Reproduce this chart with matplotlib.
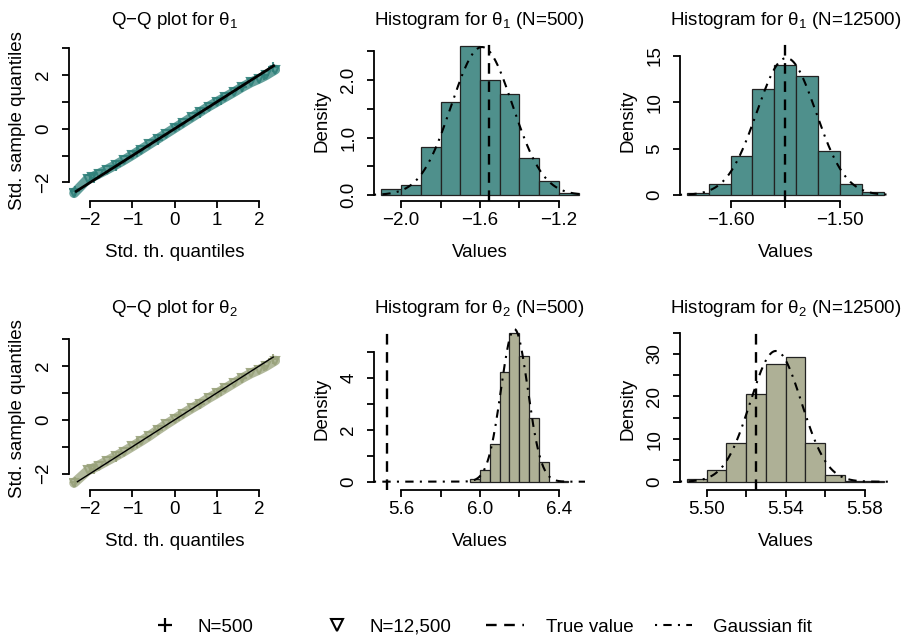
import numpy as np
import matplotlib
matplotlib.use("Agg")
import matplotlib.pyplot as plt
from matplotlib.lines import Line2D

plt.rcParams["font.family"] = ["Liberation Sans", "DejaVu Sans"]
plt.rcParams["mathtext.fontset"] = "custom"
plt.rcParams["mathtext.rm"] = "Liberation Sans"
plt.rcParams["mathtext.it"] = "Liberation Sans"

W, H = 912, 637
FS = 13.5
TEAL = "#4f908c"
TEAL_PT = "#2f807a"
OLIVE = "#aeb096"
OLIVE_PT = "#99a27b"

# ---- Q-Q data ----
qq1_theo = [-2.38, -2.05, -1.95, -1.8, -1.6, -1.4, -1.2, -1.0, -0.8, -0.6, -0.4, -0.2,
            0.0, 0.2, 0.4, 0.6, 0.8, 1.0, 1.2, 1.4, 1.6, 1.8, 2.0, 2.15, 2.38]
qq1_big = [-2.4, -1.86, -1.8, -1.68, -1.52, -1.35, -1.17, -0.98, -0.78, -0.58, -0.38, -0.18,
           0.02, 0.22, 0.42, 0.62, 0.82, 1.0, 1.18, 1.36, 1.55, 1.72, 1.86, 1.98, 2.2]
qq1_small_theo = [-2.35, -1.9, -1.4, -0.9, -0.4, 0.1, 0.6, 1.1, 1.6, 2.1, 2.32]
qq1_small = [-2.32, -1.82, -1.38, -0.87, -0.41, 0.12, 0.6, 1.08, 1.55, 2.0, 2.3]
qq1_line = [-2.33, 2.34]

qq2_theo = [-2.38, -2.05, -1.95, -1.8, -1.6, -1.4, -1.2, -1.0, -0.8, -0.6, -0.4, -0.2,
            0.0, 0.2, 0.4, 0.6, 0.8, 1.0, 1.2, 1.4, 1.6, 1.8, 2.0, 2.15, 2.38]
qq2_big = [-2.35, -1.88, -1.82, -1.7, -1.53, -1.36, -1.18, -0.99, -0.8, -0.6, -0.38, -0.17,
           0.03, 0.23, 0.42, 0.6, 0.8, 0.98, 1.17, 1.36, 1.55, 1.72, 1.86, 1.98, 2.2]
qq2_small_theo = [-2.35, -1.9, -1.4, -0.9, -0.4, 0.1, 0.6, 1.1, 1.6, 2.1, 2.32]
qq2_small = [-2.3, -1.84, -1.37, -0.88, -0.39, 0.13, 0.58, 1.07, 1.54, 2.0, 2.25]
qq2_line = [-2.3, 2.33]

# ---- histograms (bin edges and densities) ----
h1a_edges = [-2.1, -2.0, -1.9, -1.8, -1.7, -1.6, -1.5, -1.4, -1.3, -1.2, -1.1]
h1a_dens = [0.10, 0.18, 0.84, 1.62, 2.60, 2.00, 1.76, 0.64, 0.24, 0.04]
h1a_true = -1.553
h1a_fit = (-1.59, 0.155)

h1b_edges = [-1.64, -1.62, -1.60, -1.58, -1.56, -1.54, -1.52, -1.50, -1.48, -1.46]
h1b_dens = [0.26, 1.2, 4.2, 11.4, 14.0, 12.8, 4.8, 1.2, 0.3]
h1b_true = -1.55
h1b_fit = (-1.549, 0.027)

h2a_edges = [5.95, 6.0, 6.05, 6.1, 6.15, 6.2, 6.25, 6.3, 6.35, 6.4, 6.45]
h2a_dens = [0.12, 0.44, 1.44, 4.2, 5.72, 4.84, 2.44, 0.76, 0.0, 0.04]
h2a_true = 5.527
h2a_fit = (6.175, 0.068)

h2b_edges = [5.49, 5.50, 5.51, 5.52, 5.53, 5.54, 5.55, 5.56, 5.57, 5.58, 5.59]
h2b_dens = [0.7, 2.7, 9.1, 20.5, 27.6, 29.2, 9.1, 1.5, 0.05, 0.15]
h2b_true = 5.5252
h2b_fit = (5.535, 0.013)

fig = plt.figure(figsize=(W / 100, H / 100), dpi=100)


def px_axes(l, t, r, b):
    return fig.add_axes([l / W, 1 - b / H, (r - l) / W, (b - t) / H])


def r_style(ax, xt, xl, yt, yl, xlim, ylim):
    ax.set_xlim(*xlim)
    ax.set_ylim(*ylim)
    for s in ["top", "right"]:
        ax.spines[s].set_visible(False)
    for s in ["left", "bottom"]:
        ax.spines[s].set_linewidth(1.3)
    ax.spines["left"].set_bounds(yt[0], yt[-1])
    ax.spines["bottom"].set_bounds(xt[0], xt[-1])
    ax.set_xticks(xt)
    ax.set_xticklabels(xl, fontsize=FS)
    ax.set_yticks(yt)
    ax.set_yticklabels(yl, fontsize=FS, rotation=90, va="center")
    ax.tick_params(length=5, width=1.3, direction="out", colors="black")
    ax.tick_params(axis="x", pad=3)
    ax.tick_params(axis="y", pad=7)
    ax.patch.set_visible(False)


def m(v):
    return v.replace("-", "\u2212")


def qq_panel(ax, theo, big, st, small, line, col, lw_line, sub):
    ax.plot(theo, big, color=col, alpha=0.75, lw=7, solid_capstyle="round")
    ax.plot(theo, big, "v", color=col, alpha=0.9, ms=6, mfc="none", mew=1.5)
    ax.plot(st, small, "+", color=col, alpha=0.9, ms=7, mew=1.5)
    ax.plot(line, line, color="black", lw=lw_line)
    r_style(ax, [-2, -1, 0, 1, 2], [m(s) for s in ["-2", "-1", "0", "1", "2"]],
            [-2, -1, 0, 1, 2, 3], [m("-2"), "", "0", "", "2", ""],
            (-2.5, 2.49), (-2.69, 3.3))
    ax.set_title(r"Q$-$Q plot for $\mathregular{\theta_%s}$" % sub, fontsize=FS, pad=11)
    ax.set_xlabel("Std. th. quantiles", fontsize=FS, labelpad=11)
    ax.set_ylabel("Std. sample quantiles", fontsize=FS, labelpad=7)


def hist_panel(ax, edges, dens, true_v, fit, col, title, xt, xl, yt, yl, xlim, ylim):
    edges = np.array(edges)
    ax.bar(edges[:-1], dens, width=np.diff(edges), align="edge", color=col,
           edgecolor="#222222", linewidth=0.9)
    ax.axvline(true_v, color="black", lw=1.7, dashes=(4.5, 3.2))
    mu, sd = fit
    xs = np.linspace(xlim[0], xlim[1], 400)
    ax.plot(xs, np.exp(-0.5 * ((xs - mu) / sd) ** 2) / (sd * np.sqrt(2 * np.pi)),
            color="black", lw=1.5, dashes=(1, 3, 4, 3))
    r_style(ax, xt, xl, yt, yl, xlim, ylim)
    ax.set_title(title, fontsize=FS, pad=11)
    ax.set_xlabel("Values", fontsize=FS, labelpad=11)
    ax.set_ylabel("Density", fontsize=FS, labelpad=7)


cols = [69, 374, 680]
wid = 211
rows = [(40, 201), (328, 490)]

ax1 = px_axes(cols[0], rows[0][0], cols[0] + wid, rows[0][1])
qq_panel(ax1, qq1_theo, qq1_big, qq1_small_theo, qq1_small, qq1_line, TEAL_PT, 2.0, "1")

ax2 = px_axes(cols[1], rows[0][0], cols[1] + wid, rows[0][1])
hist_panel(ax2, h1a_edges, h1a_dens, h1a_true, h1a_fit, TEAL,
           r"Histogram for $\mathregular{\theta_1}$ (N=500)",
           [-2.0, -1.8, -1.6, -1.4, -1.2], [m("-2.0"), "", m("-1.6"), "", m("-1.2")],
           [0, 0.5, 1.0, 1.5, 2.0, 2.5], ["0.0", "", "1.0", "", "2.0", ""],
           (-2.137, -1.068), (-0.104, 2.696))

ax3 = px_axes(cols[2], rows[0][0], cols[2] + wid, rows[0][1])
hist_panel(ax3, h1b_edges, h1b_dens, h1b_true, h1b_fit, TEAL,
           r"Histogram for $\mathregular{\theta_1}$ (N=12500)",
           [-1.60, -1.55, -1.50], [m("-1.60"), "", m("-1.50")],
           [0, 5, 10, 15], ["0", "5", "10", "15"],
           (-1.6463, -1.4533), (-0.647, 16.72))

ax4 = px_axes(cols[0], rows[1][0], cols[0] + wid, rows[1][1])
qq_panel(ax4, qq2_theo, qq2_big, qq2_small_theo, qq2_small, qq2_line, OLIVE_PT, 1.0, "2")
ax4.set_ylim(-2.61, 3.41)

ax5 = px_axes(cols[1], rows[1][0], cols[1] + wid, rows[1][1])
hist_panel(ax5, h2a_edges, h2a_dens, h2a_true, h2a_fit, OLIVE,
           r"Histogram for $\mathregular{\theta_2}$ (N=500)",
           [5.6, 5.8, 6.0, 6.2, 6.4], ["5.6", "", "6.0", "", "6.4"],
           [0, 1, 2, 3, 4, 5], ["0", "", "2", "", "4", ""],
           (5.461, 6.534), (-0.32, 5.91))

ax6 = px_axes(cols[2], rows[1][0], cols[2] + wid, rows[1][1])
hist_panel(ax6, h2b_edges, h2b_dens, h2b_true, h2b_fit, OLIVE,
           r"Histogram for $\mathregular{\theta_2}$ (N=12500)",
           [5.50, 5.52, 5.54, 5.56, 5.58], ["5.50", "", "5.54", "", "5.58"],
           [0, 5, 10, 15, 20, 25, 30, 35], ["0", "", "10", "", "20", "", "30", ""],
           (5.4865, 5.5933), (-1.95, 36.08))

# ---- legend along the bottom ----
leg_items = [
    (Line2D([], [], marker="+", ls="none", color="black", ms=10, mew=1.6), "N=500", 146, 0.75),
    (Line2D([], [], marker="v", ls="none", color="black", mfc="none", ms=8, mew=1.5),
     "N=12,500", 318, 0.75),
    (Line2D([], [], color="black", lw=1.7, dashes=(4.5, 3.2)), "True value", 486, 1.2),
    (Line2D([], [], color="black", lw=1.5, dashes=(1, 3, 4, 3)), "Gaussian fit", 655, 1.1),
]
for h, lab, x0, pad in leg_items:
    fig.legend(handles=[h], labels=[lab], loc="center left",
               bbox_to_anchor=(x0 / W, 10 / H), frameon=False, fontsize=FS,
               handlelength=2.0, handletextpad=pad, borderpad=0, borderaxespad=0)

fig.savefig("out.png", dpi=100)
